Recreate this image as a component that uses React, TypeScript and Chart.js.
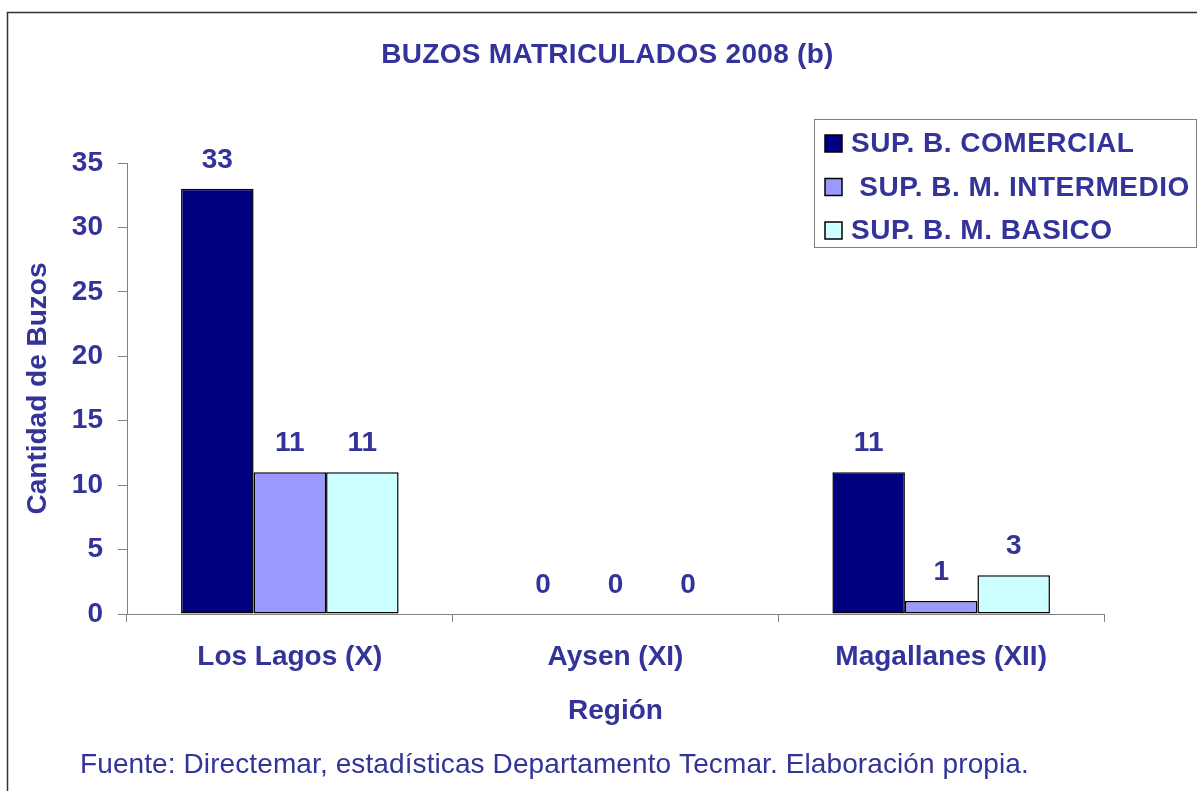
import React, { useEffect, useRef } from "react";
import { Chart, registerables } from "chart.js";

Chart.register(...registerables);

const categories = ["Los Lagos (X)", "Aysen (XI)", "Magallanes (XII)"];
const seriesNames = ["SUP. B. COMERCIAL", " SUP. B. M. INTERMEDIO", "SUP. B. M. BASICO"];
const comercial = [33, 0, 11];
const intermedio = [11, 0, 1];
const basico = [11, 0, 3];
const seriesColors = ["#000080", "#9999FF", "#CCFFFF"];
const titleText = "BUZOS MATRICULADOS 2008 (b)";
const sourceText = "Fuente: Directemar, estadísticas Departamento Tecmar. Elaboración propia.";
const yAxisTitle = "Cantidad de Buzos";
const xAxisTitle = "Región";

const TEXT = "#333399";
const FONT = "'Liberation Sans', Arial, sans-serif";

const decorPlugin = {
  id: "decor",
  beforeDraw(chart: any) {
    const ctx = chart.ctx;
    ctx.save();
    ctx.fillStyle = "#ffffff";
    ctx.fillRect(0, 0, chart.width, chart.height);
    ctx.strokeStyle = "#333333";
    ctx.lineWidth = 1.5;
    ctx.strokeRect(7.5, 12.5, 1400, 1000);
    ctx.restore();
  },
  afterDatasetsDraw(chart: any) {
    const ctx = chart.ctx;
    ctx.save();
    ctx.fillStyle = TEXT;
    ctx.font = `bold 28px ${FONT}`;
    ctx.textAlign = "center";
    ctx.textBaseline = "alphabetic";
    chart.data.datasets.forEach((ds: any, i: number) => {
      const meta = chart.getDatasetMeta(i);
      meta.data.forEach((el: any, j: number) => {
        ctx.fillText(String(ds.data[j]), el.x, el.y - 21);
      });
    });
    ctx.restore();
  },
  afterDraw(chart: any) {
    const ctx = chart.ctx;
    ctx.save();
    ctx.fillStyle = TEXT;
    ctx.textBaseline = "middle";
    ctx.textAlign = "center";
    ctx.font = `bold 28px ${FONT}`;
    (ctx as any).letterSpacing = "0.3px";
    ctx.fillText(titleText, 607.5, 55);
    ctx.textAlign = "left";
    ctx.font = `28px ${FONT}`;
    (ctx as any).letterSpacing = "0.1px";
    ctx.fillText(sourceText, 80, 765);

    // legend box
    ctx.strokeStyle = "#808080";
    ctx.lineWidth = 1;
    ctx.strokeRect(814.5, 119.5, 382, 128);
    const rows = [143.5, 187, 230.5];
    chart.data.datasets.forEach((ds: any, i: number) => {
      const cy = rows[i];
      ctx.fillStyle = ds.backgroundColor;
      ctx.fillRect(825, cy - 8.5, 17, 17);
      ctx.strokeStyle = "#000000";
      ctx.lineWidth = 1.5;
      ctx.strokeRect(825, cy - 8.5, 17, 17);
      ctx.fillStyle = TEXT;
      ctx.font = `bold 28px ${FONT}`;
      (ctx as any).letterSpacing = "0.5px";
      ctx.textAlign = "left";
      ctx.textBaseline = "middle";
      ctx.fillText(ds.label, 851, cy + 1);
    });
    ctx.restore();
  },
};

export default function App() {
  const ref = useRef<HTMLCanvasElement>(null);
  useEffect(() => {
    if (!ref.current) return;
    const chart = new Chart(ref.current, {
      type: "bar",
      data: {
        labels: categories,
        datasets: [comercial, intermedio, basico].map((d, i) => ({
          label: seriesNames[i],
          data: d,
          backgroundColor: seriesColors[i],
          borderColor: "#000000",
          borderWidth: 1.5,
          borderSkipped: false as any,
          categoryPercentage: 0.668,
          barPercentage: 1,
        })),
      },
      options: {
        responsive: false,
        animation: false,
        devicePixelRatio: 1,
        layout: { padding: { top: 163, left: 0, right: 93, bottom: 0 } },
        plugins: {
          legend: { display: false },
          title: { display: false },
          tooltip: { enabled: false },
        },
        scales: {
          x: {
            afterFit: (s: any) => { s.height = 177; },
            grid: {
              offset: true,
              drawOnChartArea: false,
              drawTicks: true,
              tickLength: 8,
              color: "#808080",
            },
            border: { display: true, color: "#808080", width: 1 },
            ticks: {
              color: TEXT,
              font: { family: FONT, size: 28, weight: "bold" },
              padding: 18,
              maxRotation: 0,
            },
            title: {
              display: true,
              text: xAxisTitle,
              color: TEXT,
              font: { family: FONT, size: 28, weight: "bold" },
              padding: { top: 0, bottom: 63 },
            },
          },
          y: {
            min: 0,
            max: 35,
            afterFit: (s: any) => { s.width = 127; },
            grid: {
              drawOnChartArea: false,
              drawTicks: true,
              tickLength: 9,
              color: "#808080",
            },
            border: { display: true, color: "#808080", width: 1 },
            ticks: {
              stepSize: 5,
              color: TEXT,
              font: { family: FONT, size: 28, weight: "bold" },
              padding: 15,
            },
            title: {
              display: true,
              text: yAxisTitle,
              color: TEXT,
              font: { family: FONT, size: 28, weight: "bold" },
              padding: { top: 21, bottom: 0 },
            },
          },
        },
      },
      plugins: [decorPlugin],
    });
    return () => chart.destroy();
  }, []);
  return (
    <div style={{ position: "fixed", left: 0, top: 0, width: 1197, height: 791, background: "#fff" }}>
      <canvas ref={ref} width={1197} height={791} style={{ display: "block" }} />
    </div>
  );
}
